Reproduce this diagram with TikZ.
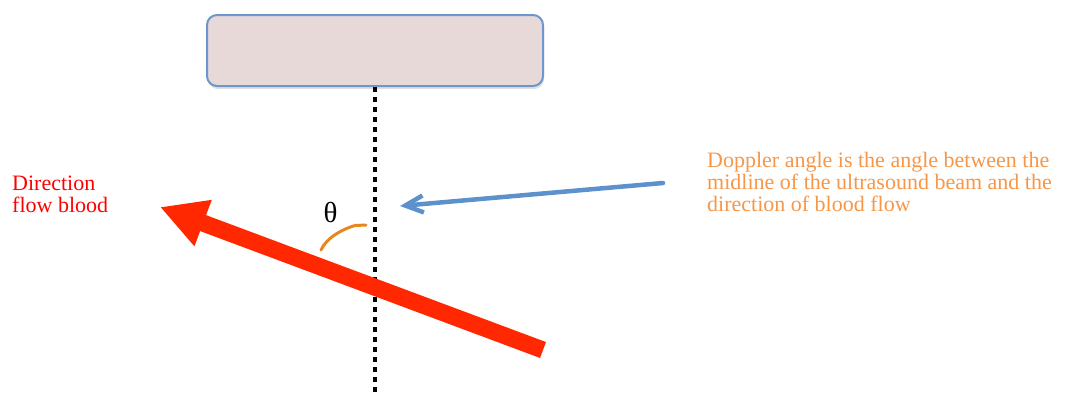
\documentclass[tikz,border=0pt]{standalone}
\usepackage{fontspec}
\setmainfont{Liberation Serif}
\usetikzlibrary{arrows.meta,shadows}
\definecolor{boxfill}{RGB}{230,217,216}
\definecolor{boxline}{RGB}{108,150,205}
\definecolor{flowred}{RGB}{255,40,0}
\definecolor{beamblue}{RGB}{93,145,203}
\definecolor{angleorange}{RGB}{232,135,30}
\definecolor{noteorange}{RGB}{247,150,70}
\begin{document}
\begin{tikzpicture}[x=1pt,y=-1pt,
  probe/.style={draw=boxline,fill=boxfill,line width=2pt,rounded corners=10pt,
    minimum width=336pt,minimum height=71pt,inner sep=0pt,
    drop shadow={shadow xshift=1pt,shadow yshift=-3pt,opacity=0.25}},
  beamline/.style={line width=4.5pt,dash pattern=on 4.5pt off 5.5pt,black},
  flow/.style={flowred,line width=17pt,-{Triangle[length=46pt,width=46pt]}},
  pointer/.style={beamblue,line width=4.5pt,line cap=round,
    -{Straight Barb[length=18pt,width=17pt]}},
  anglearc/.style={angleorange,line width=3pt,line cap=round},
  redlabel/.style={text=red,font=\fontsize{22}{22.3}\selectfont,align=left,inner sep=0pt,anchor=north west},
  notelabel/.style={text=noteorange,font=\fontsize{22}{22}\selectfont,align=left,inner sep=0pt,anchor=north west},
  thetalabel/.style={font=\fontsize{29}{29}\selectfont,inner sep=0pt}]
\useasboundingbox (0,0) rectangle (1076,392);
\node[probe] (probe) at (375,50.5) {};
\coordinate (beamend) at (375,392);
\draw[beamline] (probe.south) -- (beamend);
\coordinate (flowstart) at (543,350);
\coordinate (flowtip) at (160,207);
\draw[flow] (flowstart) -- (flowtip);
\node[redlabel] (dirlabel) at (12,175.7) {Direction\\flow blood};
\node[notelabel] (note) at (707,151.7) {Doppler angle is the angle between the\\midline of the ultrasound beam and the\\direction of blood flow};
\coordinate (notestart) at (663,183);
\coordinate (beamhit) at (400,206);
\draw[pointer] (notestart) -- (beamhit);
\node[thetalabel] (theta) at (330.5,212.5) {θ};
\coordinate (arcA) at (321,250);
\coordinate (arcB) at (366,225);
\draw[anglearc] (arcA) .. controls (327,237) and (343,229) .. (355,225.5) -- (arcB);
\end{tikzpicture}
\end{document}
